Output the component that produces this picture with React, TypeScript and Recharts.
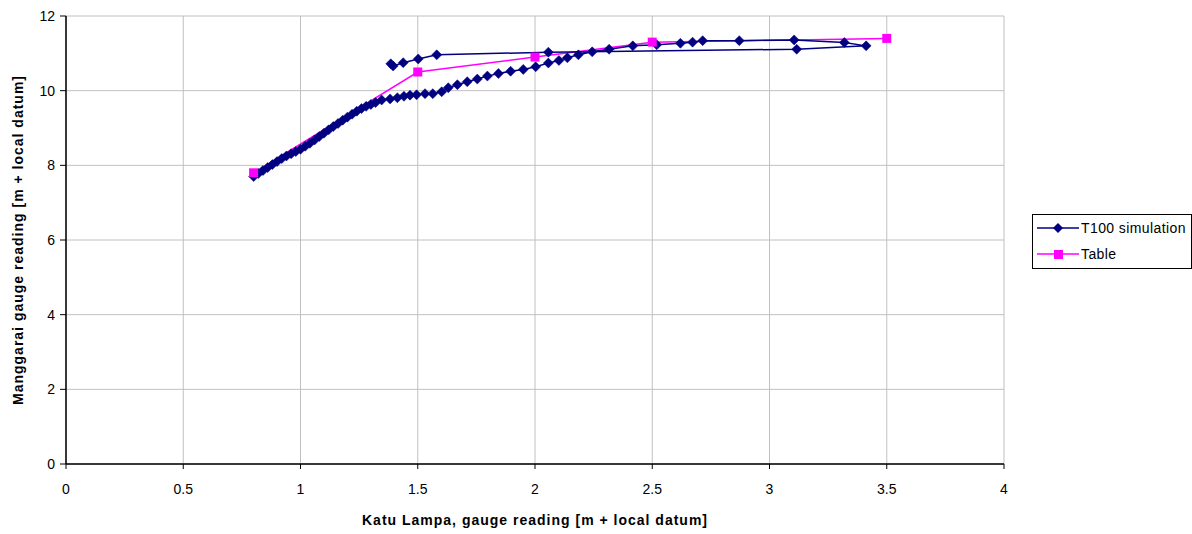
import React from "react";
import { LineChart, Line, XAxis, YAxis, CartesianGrid } from "recharts";

// T100 simulation, in time order (rising branch, then the return branch)
const simKatu = [
  0.8, 0.82, 0.84, 0.86, 0.88, 0.9, 0.92, 0.94, 0.96, 0.98, 1.0, 1.02, 1.04, 1.06, 1.08, 1.1,
  1.12, 1.14, 1.16, 1.18, 1.2, 1.22, 1.24, 1.26, 1.28, 1.3, 1.32, 1.346, 1.382, 1.413, 1.441,
  1.467, 1.495, 1.531, 1.564, 1.602, 1.63, 1.669, 1.711, 1.754, 1.797, 1.844, 1.896, 1.95,
  2.003, 2.057, 2.102, 2.138, 2.185, 2.244, 2.316, 2.417, 2.519, 2.62, 2.672, 2.715, 2.871,
  3.105, 3.319, 3.412, 3.116, 2.057, 1.581, 1.502, 1.438, 1.395, 1.385,
];
const simManggarai = [
  7.7, 7.78, 7.86, 7.94, 8.02, 8.1, 8.18, 8.25, 8.31, 8.37, 8.43, 8.51, 8.59, 8.68, 8.77, 8.86,
  8.95, 9.04, 9.12, 9.21, 9.29, 9.37, 9.45, 9.52, 9.58, 9.63, 9.68, 9.75, 9.78, 9.81, 9.85,
  9.88, 9.89, 9.92, 9.92, 9.97, 10.08, 10.16, 10.24, 10.31, 10.39, 10.46, 10.52, 10.57,
  10.64, 10.74, 10.81, 10.88, 10.96, 11.04, 11.11, 11.2, 11.23, 11.27, 11.3, 11.34, 11.34,
  11.36, 11.29, 11.2, 11.11, 11.03, 10.96, 10.85, 10.75, 10.66, 10.72,
];

// rating table
const tableKatu = [0.8, 1.5, 2.0, 2.5, 3.5];
const tableManggarai = [7.8, 10.5, 10.9, 11.3, 11.4];

const xTicks = [0, 0.5, 1, 1.5, 2, 2.5, 3, 3.5, 4];
const yTicks = [0, 2, 4, 6, 8, 10, 12];

const simData = simKatu.map((x, i) => ({ x, y: simManggarai[i] }));
const tableData = tableKatu.map((x, i) => ({ x, y: tableManggarai[i] }));

const NAVY = "#000080";
const MAGENTA = "#FF00FF";
const FONT = "'Liberation Sans', Arial, sans-serif";

const Diamond = (props: any) => {
  const { cx, cy } = props;
  if (cx == null || cy == null) return null;
  const r = 5;
  return <path d={`M${cx},${cy - r}L${cx + r},${cy}L${cx},${cy + r}L${cx - r},${cy}Z`} fill={NAVY} stroke={NAVY} strokeWidth={0.5} />;
};

const Square = (props: any) => {
  const { cx, cy } = props;
  if (cx == null || cy == null) return null;
  const r = 4.5;
  return <rect x={cx - r} y={cy - r} width={2 * r} height={2 * r} fill={MAGENTA} />;
};

const titleStyle = { fill: "#000", fontSize: 14, fontWeight: "bold", fontFamily: FONT, letterSpacing: 1 };

export default function App() {
  return (
    <div style={{ position: "absolute", left: 0, top: 0, width: 1192, height: 534, fontFamily: FONT }}>
      <LineChart width={1192} height={534} margin={{ top: 16, right: 188, bottom: 0, left: 0 }}>
        <CartesianGrid stroke="#c0c0c0" strokeWidth={1} />
        <XAxis
          type="number"
          dataKey="x"
          domain={[0, 4]}
          ticks={xTicks}
          interval={0}
          height={70}
          tickSize={5}
          tickMargin={15}
          axisLine={{ stroke: "#000", strokeWidth: 1.5 }}
          tickLine={{ stroke: "#000" }}
          tick={{ fill: "#000", fontSize: 14, fontFamily: FONT }}
          label={{ value: "Katu Lampa, gauge reading [m + local datum]", position: "center", dy: 21, ...titleStyle }}
        />
        <YAxis
          type="number"
          dataKey="y"
          domain={[0, 12]}
          ticks={yTicks}
          interval={0}
          width={66}
          tickSize={6}
          tickMargin={5}
          axisLine={{ stroke: "#000", strokeWidth: 1.5 }}
          tickLine={{ stroke: "#000" }}
          tick={{ fill: "#000", fontSize: 14, fontFamily: FONT }}
          label={{ value: "Manggarai gauge reading [m + local datum]", angle: -90, position: "center", dx: -15, ...titleStyle }}
        />
        <Line data={tableData} dataKey="y" type="linear" stroke={MAGENTA} strokeWidth={1.5} dot={false} activeDot={false} isAnimationActive={false} />
        <Line data={simData} dataKey="y" type="linear" stroke={NAVY} strokeWidth={1.5} dot={<Diamond />} activeDot={false} isAnimationActive={false} />
        <Line data={tableData} dataKey="y" type="linear" stroke="none" dot={<Square />} activeDot={false} isAnimationActive={false} />
      </LineChart>
      <div
        style={{
          position: "absolute",
          left: 1032,
          top: 214,
          width: 158,
          height: 53,
          border: "1px solid #000",
          background: "#fff",
          fontSize: 14,
          letterSpacing: 0.4,
          color: "#000",
        }}
      >
        <div style={{ position: "absolute", left: 4, top: 5, display: "flex", alignItems: "center" }}>
          <svg width={43} height={16}>
            <line x1={0} y1={8} x2={42} y2={8} stroke={NAVY} strokeWidth={1.5} />
            <path d="M21,3L26,8L21,13L16,8Z" fill={NAVY} />
          </svg>
          <span style={{ marginLeft: 1 }}>T100 simulation</span>
        </div>
        <div style={{ position: "absolute", left: 4, top: 31, display: "flex", alignItems: "center" }}>
          <svg width={43} height={16}>
            <line x1={0} y1={8} x2={42} y2={8} stroke={MAGENTA} strokeWidth={1.5} />
            <rect x={17} y={4} width={9} height={9} fill={MAGENTA} />
          </svg>
          <span style={{ marginLeft: 1 }}>Table</span>
        </div>
      </div>
    </div>
  );
}
